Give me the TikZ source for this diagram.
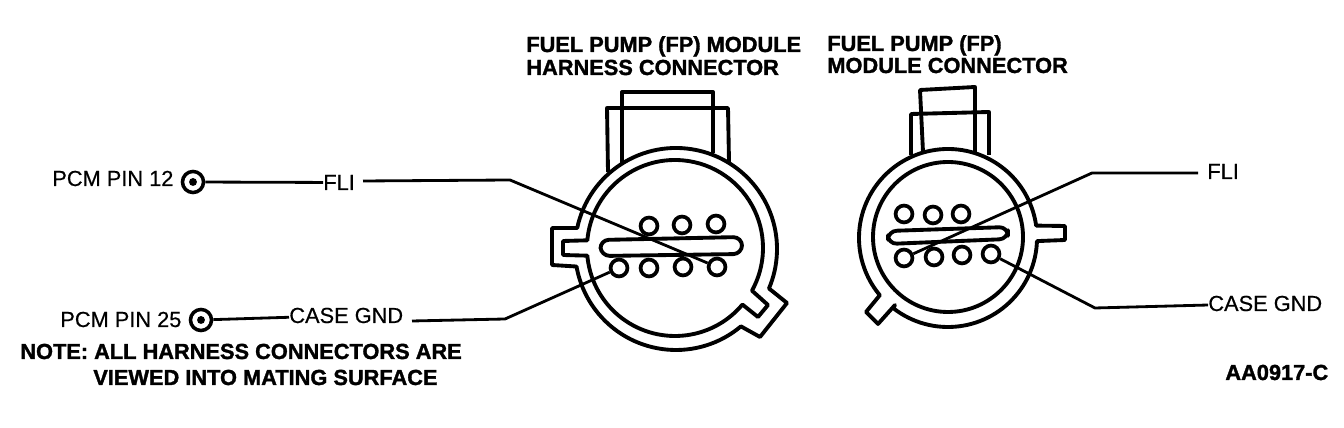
\documentclass[tikz,border=0pt]{standalone}
\usepackage{fontspec}
\setmainfont{Liberation Sans}[UprightFeatures={FakeBold=0.5},BoldFeatures={FakeBold=1.5}]
\usetikzlibrary{calc}
\tikzset{
	body/.style={line width=2.2pt, line join=round},
	wire/.style={line width=1.6pt},
	pinhole/.style={circle, draw, line width=2.1pt, minimum size=9.6pt, inner sep=0pt},
	terminal/.style={circle, draw, line width=2pt, minimum size=12pt, inner sep=0pt},
	termdot/.style={circle, fill=black, minimum size=4.5pt, inner sep=0pt},
	title/.style={anchor=base west, inner sep=0pt, font=\fontsize{12.4}{12}\selectfont\bfseries},
	label/.style={anchor=base west, inner sep=0pt, font=\fontsize{12.4}{12}\selectfont},
}
\begin{document}
\begin{tikzpicture}[x=0.02cm, y=0.02cm]
	%%%%% FRAME %%%%%
	\useasboundingbox (0, 0) rectangle (1344, 428);
	\coordinate (hcore) at (676, 179);
	\coordinate (hbore) at (675, 180);
	\coordinate (mcore) at (948, 190);

	%%%%% HARNESS CONNECTOR %%%%%
	\draw[body] (608, 256) -- (607, 320) -- (728, 320) -- (729, 266);
	\draw[body] (622, 264) -- (622, 336) -- (713, 336) -- (713, 275);
	\draw[body] ($(hcore)+(168:101)$) arc (168:-23:101) -- (787, 125) -- (760, 91) -- ($(hcore)+(-50:101)$) arc (-50:-170:101) -- (552, 163) -- (552, 200) -- cycle;
	\draw[body] ($(hbore)+(175:88)$) arc (175:-29:88) -- (768, 123) -- (758, 111) -- ($(hbore)+(-40:88)$) arc (-40:-175:88) -- (563, 173) -- (563, 187) -- cycle;
	\draw[body, rounded corners=5pt] (601, 172) -- (600, 188) -- (742, 191) -- (742, 174) -- cycle;

	\node[pinhole] (hone) at (649, 202) {};
	\node[pinhole] (htwo) at (682, 203) {};
	\node[pinhole] (hthree) at (716, 204) {};
	\node[pinhole] (hfour) at (619, 160) {};
	\node[pinhole] (hfive) at (649, 160) {};
	\node[pinhole] (hsix) at (683, 161) {};
	\node[pinhole] (hseven) at (717, 161) {};

	%%%%% MODULE CONNECTOR %%%%%
	\draw[body] (911, 273) -- (911, 314) -- (989, 316) -- (989, 273);
	\draw[body] (923, 276) -- (920, 338) -- (975, 341) -- (975, 276);
	\draw[body] ($(mcore)+(8:89)$) arc (8:220:89) -- (866, 116) -- (878, 104) -- (895, 123) -- ($(mcore)+(-128:89)$) arc (-128:-2:89) -- (1065, 188) -- (1065, 202) -- cycle;
	\draw[body] (948, 191) circle (75);
	\draw[body, rounded corners=5pt] (888, 184) -- (888, 197) -- (1008, 201) -- (1008, 189) -- cycle;

	\node[pinhole] (mone) at (904, 214) {};
	\node[pinhole] (mtwo) at (933, 213) {};
	\node[pinhole] (mthree) at (961, 214) {};
	\node[pinhole] (mfour) at (904, 170) {};
	\node[pinhole] (mfive) at (934, 171) {};
	\node[pinhole] (msix) at (962, 173) {};
	\node[pinhole] (mseven) at (991, 174) {};

	%%%%% LEFT SIDE %%%%%
	\node[terminal] (pinA) at (193, 246) {};
	\node[termdot] (dotA) at (pinA) {};
	\node[terminal] (pinB) at (201, 108) {};
	\node[termdot] (dotB) at (pinB) {};

	\node[label] (pcmA) at (52, 242) {PCM PIN 12};
	\node[label] (pcmB) at (60, 101) {PCM PIN 25};
	\node[label] (fliA) at (323, 238) {FLI};
	\node[label] (gndA) at (289, 105) {CASE GND};

	\coordinate (startA) at (363, 247);
	\coordinate (startB) at (412, 107);
	\coordinate (bendA) at (510, 248);
	\coordinate (bendB) at (505, 109);
	\draw[wire] (pinA) -- (fliA);
	\draw[wire] (startA) -- (bendA) -- (hseven);
	\draw[wire] (pinB) -- (gndA);
	\draw[wire] (startB) -- (bendB) -- (hfour);

	%%%%% RIGHT SIDE %%%%%
	\node[label] (fliB) at (1207, 249) {FLI};
	\node[label] (gndB) at (1208, 117) {CASE GND};
	\coordinate (bendC) at (1092, 255);
	\coordinate (bendD) at (1095, 120);
	\coordinate (endC) at (1198, 255);
	\draw[wire] (mfour) -- (bendC) -- (endC);
	\draw[wire] (mseven) -- (bendD) -- (gndB);

	%%%%% TEXT %%%%%
	\node[title] (titleA) at (526, 376) {FUEL PUMP (FP) MODULE};
	\node[title] (titleB) at (526, 353) {HARNESS CONNECTOR};
	\node[title] (titleC) at (827, 377) {FUEL PUMP (FP)};
	\node[title] (titleD) at (827, 355) {MODULE CONNECTOR};
	\node[title] (noteA) at (20, 69) {NOTE: ALL HARNESS CONNECTORS ARE};
	\node[title] (noteB) at (93, 43) {VIEWED INTO MATING SURFACE};
	\node[title] (code) at (1225, 48) {AA0917-C};
\end{tikzpicture}
\end{document}
